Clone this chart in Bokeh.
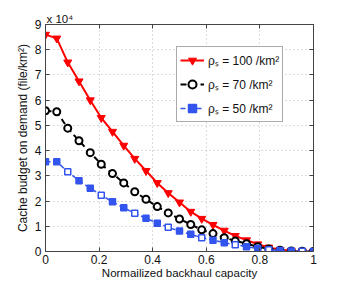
from bokeh.plotting import figure
from bokeh.models import (Legend, LegendItem, Title, LinearAxis, FixedTicker,
                          CustomJSTickFormatter)
from bokeh.embed import file_html
from bokeh.resources import INLINE

# ---- data (cache budget in units of 10^4 file/km^2) ----
backhaul = [0.0, 0.042, 0.083, 0.125, 0.167, 0.208, 0.25, 0.292, 0.333, 0.375,
            0.417, 0.458, 0.5, 0.542, 0.583, 0.625, 0.667, 0.708, 0.75, 0.792,
            0.833, 0.875, 0.917, 0.958, 1.0]
rho100 = [8.6, 8.45, 7.5, 6.75, 6.0, 5.3, 4.75, 4.2, 3.68, 3.2,
          2.72, 2.32, 1.95, 1.58, 1.3, 1.06, 0.83, 0.62, 0.45, 0.29,
          0.16, 0.07, 0.03, 0.01, 0.0]
rho70 = [5.58, 5.54, 4.89, 4.39, 3.92, 3.46, 3.09, 2.72, 2.37, 2.07,
         1.78, 1.53, 1.29, 1.07, 0.86, 0.71, 0.55, 0.42, 0.31, 0.19,
         0.1, 0.05, 0.02, 0.01, 0.0]
rho50 = [3.56, 3.56, 3.16, 2.81, 2.51, 2.23, 1.97, 1.73, 1.52, 1.32,
         1.12, 0.96, 0.81, 0.68, 0.55, 0.45, 0.35, 0.27, 0.19, 0.12,
         0.07, 0.04, 0.02, 0.01, 0.0]
labels = ["ρₛ = 100 /km²", "ρₛ = 70 /km²", "ρₛ = 50 /km²"]
x_ticks = [0, 0.2, 0.4, 0.6, 0.8, 1.0]
y_ticks = [0, 1, 2, 3, 4, 5, 6, 7, 8, 9]
exponent_text = "x 10⁴"

FONT = "Liberation Sans"
RED = "#ff0000"
BLUE = "#3355ee"

p = figure(output_backend="svg", toolbar_location=None,
           x_range=(0, 1), y_range=(0, 9),
           frame_width=268, frame_height=227,
           min_border_left=45, min_border_top=24, min_border_right=25,
           min_border_bottom=28)
p.background_fill_color = "white"
p.border_fill_color = "white"
p.outline_line_color = "#222222"
p.outline_line_width = 1

# grid
for g in (p.xgrid, p.ygrid):
    g.grid_line_color = "#b8b8b8"
    g.grid_line_dash = "1 3"
    g.grid_line_width = 1
p.xgrid.ticker = FixedTicker(ticks=x_ticks)
p.ygrid.ticker = FixedTicker(ticks=y_ticks)

xfmt = CustomJSTickFormatter(code="return (tick == 0 || tick == 1) ? tick.toFixed(0) : tick.toFixed(1);")

def style_axis(ax, show_labels=True):
    ax.axis_line_color = "#444444"
    ax.axis_line_width = 1
    ax.major_tick_in = 4
    ax.major_tick_out = 0
    ax.minor_tick_line_color = None
    ax.major_tick_line_color = "#444444"
    ax.major_label_text_font = FONT
    ax.major_label_text_font_size = "12px"
    ax.major_label_text_color = "#111111"
    ax.axis_label_text_font = FONT
    ax.axis_label_text_font_size = "11.5px"
    ax.axis_label_text_font_style = "normal"
    ax.axis_label_text_color = "#111111"
    if not show_labels:
        ax.major_label_text_font_size = "0px"
        ax.major_label_text_color = None

xa = p.xaxis[0]
ya = p.yaxis[0]
xa.ticker = FixedTicker(ticks=x_ticks)
ya.ticker = FixedTicker(ticks=y_ticks)
xa.formatter = xfmt
style_axis(xa)
style_axis(ya)
ya.axis_label_text_font_size = "12px"
xa.axis_label = "Normailized backhaul capacity"
ya.axis_label = "Cache budget on demand (file/km²)"
xa.major_label_standoff = 3
xa.axis_label_standoff = 0
ya.major_label_standoff = 4
ya.axis_label_standoff = 2

top = LinearAxis(ticker=FixedTicker(ticks=x_ticks))
right = LinearAxis(ticker=FixedTicker(ticks=y_ticks))
style_axis(top, False)
style_axis(right, False)
top.major_label_standoff = 0
right.major_label_standoff = 0
p.add_layout(top, "above")
p.add_layout(right, "right")

# exponent label above the axis
p.add_layout(Title(text=exponent_text, align="left", offset=1, standoff=0,
                   text_font=FONT, text_font_size="11.5px", text_color="#111111",
                   text_font_style="normal"), "above")

# series
r_line = p.line(backhaul, rho100, line_color=RED, line_width=2)
r_mk = p.scatter(backhaul, rho100, marker="inverted_triangle", size=8,
                 fill_color=RED, line_color=RED)

k_line = p.line(backhaul, rho70, line_color="black", line_width=2, line_dash="6 4")
k_mk = p.scatter(backhaul, rho70, marker="circle", size=7, fill_color="white",
                 line_color="black", line_width=2)

blue_fill = [BLUE if i % 3 != 2 else "white" for i in range(len(rho50))]
b_line = p.line(backhaul, rho50, line_color=BLUE, line_width=1.5, line_dash="5 3")
b_mk = p.scatter(backhaul, rho50, marker="square", size=6, fill_color=blue_fill,
                 line_color=BLUE, line_width=1.5)

legend = Legend(items=[
    LegendItem(label=labels[0], renderers=[r_line, r_mk]),
    LegendItem(label=labels[1], renderers=[k_line, k_mk]),
    LegendItem(label=labels[2], renderers=[b_line, b_mk]),
], location=(131, 129))
legend.label_text_font = FONT
legend.label_text_font_size = "12px"
legend.label_text_color = "#111111"
legend.glyph_width = 24
legend.glyph_height = 20
legend.label_height = 20
legend.spacing = 4
legend.padding = 3
legend.margin = 0
legend.label_standoff = 4
legend.border_line_color = "#555555"
legend.border_line_width = 1
legend.background_fill_color = "white"
legend.background_fill_alpha = 1
p.add_layout(legend, "center")

open("out.html", "w").write(file_html(p, INLINE))
